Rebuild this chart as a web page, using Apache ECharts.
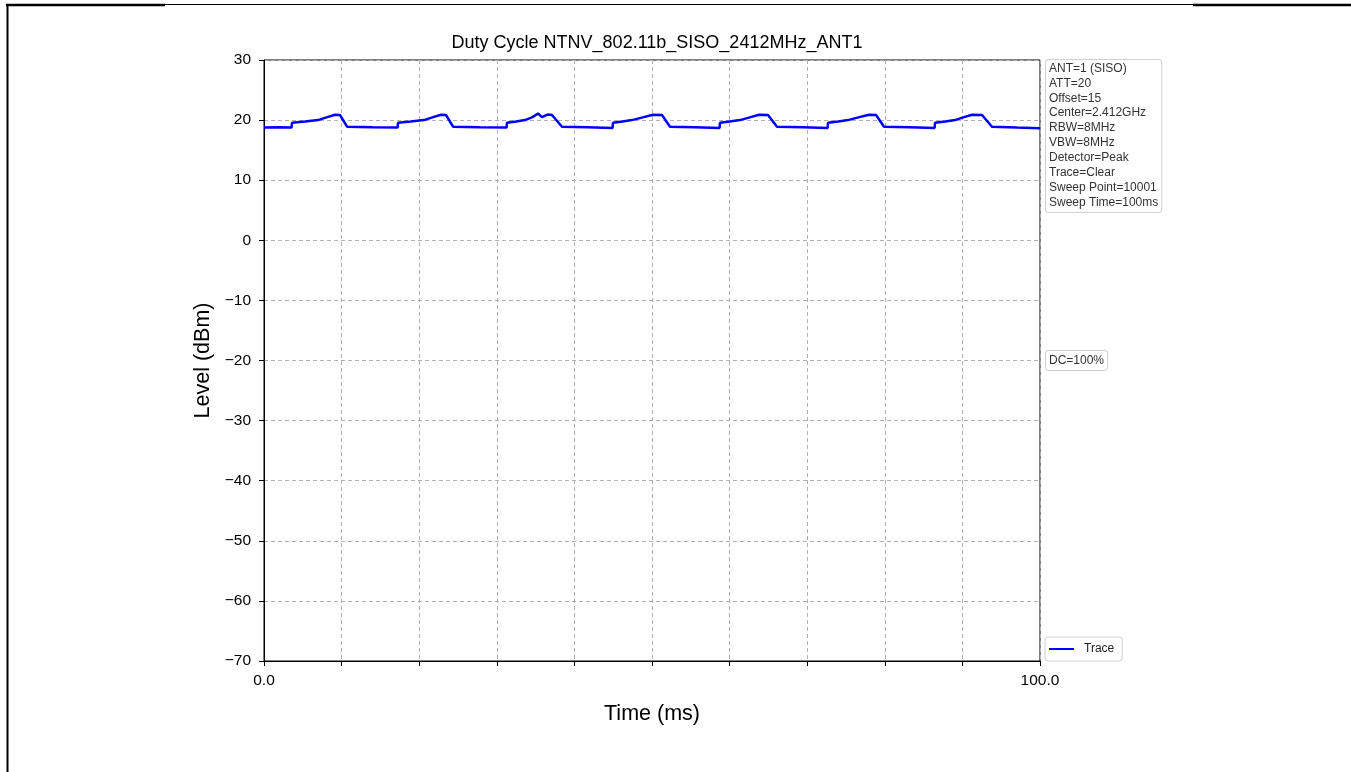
<!DOCTYPE html>
<html>
<head>
<meta charset="utf-8">
<script src="https://cdn.jsdelivr.net/npm/echarts@6/dist/echarts.min.js"></script>
<style>
html,body{margin:0;padding:0;background:#fff;}
#c{width:1351px;height:772px;}
</style>
</head>
<body>
<div id="c"></div>
<script>
const chartTitle = 'Duty Cycle NTNV_802.11b_SISO_2412MHz_ANT1';
const xName = 'Time (ms)';
const yName = 'Level (dBm)';
const xTickLabels = {0: '0.0', 100: '100.0'};
const infoLines = ['ANT=1 (SISO)', 'ATT=20', 'Offset=15', 'Center=2.412GHz', 'RBW=8MHz', 'VBW=8MHz', 'Detector=Peak', 'Trace=Clear', 'Sweep Point=10001', 'Sweep Time=100ms'];
const dcLabel = 'DC=100%';
const seriesName = 'Trace';

const traceTime = [
  0, 1.8, 3.55, 3.61, 5.3, 6.96, 8.05, 9.15, 9.79, 10.70, 14.0,
  17.22, 17.27, 18.9, 20.62, 21.7, 22.81, 23.45, 24.36, 27.8,
  31.26, 31.31, 32.5, 33.63, 34.6, 35.31, 35.82, 36.6, 37.11, 38.40, 41.7,
  44.92, 44.97, 46.2, 47.42, 48.8, 50.13, 51.29, 52.32, 55.5,
  58.71, 58.76, 60.0, 61.34, 62.6, 63.79, 64.95, 66.11, 69.4,
  72.63, 72.68, 74.0, 75.26, 76.6, 77.96, 78.87, 79.90, 83.2,
  86.42, 86.47, 87.8, 89.05, 90.1, 91.24, 92.53, 93.81, 97.0, 100
];
const traceLevel = [
  18.75, 18.8, 18.75, 19.55, 19.75, 20.0, 20.45, 20.9, 20.85, 18.9, 18.8,
  18.75, 19.55, 19.75, 20.0, 20.45, 20.9, 20.85, 18.9, 18.8,
  18.75, 19.55, 19.75, 20.0, 20.5, 21.1, 20.5, 20.95, 20.85, 18.9, 18.8,
  18.7, 19.55, 19.75, 20.0, 20.45, 20.9, 20.85, 18.9, 18.8,
  18.7, 19.55, 19.75, 20.0, 20.45, 20.9, 20.85, 18.9, 18.8,
  18.7, 19.55, 19.75, 20.0, 20.45, 20.9, 20.85, 18.9, 18.8,
  18.7, 19.55, 19.75, 20.0, 20.45, 20.9, 20.85, 18.9, 18.75, 18.65
];

const FONT = '"Liberation Sans", Arial, sans-serif';
const chart = echarts.init(document.getElementById('c'), null, {renderer: 'canvas'});
const data = traceTime.map((t, i) => [t, traceLevel[i]]);

chart.setOption({
  backgroundColor: '#fff',
  animation: false,
  title: {
    text: chartTitle, left: 652, top: 29, textAlign: 'center',
    textStyle: {fontFamily: FONT, fontSize: 18, fontWeight: 'normal', color: '#000'}
  },
  legend: {
    data: [seriesName], left: 1045, top: 637, orient: 'vertical',
    icon: 'path://M0,0 L1,0 L1,0.08 L0,0.08 Z',
    itemWidth: 27, itemHeight: 2, itemGap: 4,
    padding: [6, 8, 6, 4],
    borderColor: '#d0d0d0', borderWidth: 1, borderRadius: 3,
    textStyle: {fontFamily: FONT, fontSize: 12, color: '#222', padding: [0, 0, 0, 4]}
  },
  grid: {left: 264, top: 60, right: 311, bottom: 111, show: true, borderColor: '#000', borderWidth: 1, backgroundColor: 'transparent'},
  xAxis: {
    type: 'value', min: 0, max: 100, interval: 10,
    name: xName, nameLocation: 'middle', nameGap: 42,
    nameTextStyle: {fontFamily: FONT, fontSize: 21.5, color: '#000'},
    axisLine: {show: true, onZero: false, lineStyle: {color: '#000', width: 1}},
    axisTick: {show: true, inside: false, length: 5, lineStyle: {color: '#000'}},
    axisLabel: {
      fontFamily: FONT, fontSize: 15.5, color: '#000', margin: 12, showMinLabel: true, showMaxLabel: true,
      formatter: v => (xTickLabels[v] !== undefined ? xTickLabels[v] : '')
    },
    splitLine: {show: true, lineStyle: {color: '#b0b0b0', type: [4, 3], width: 1}}
  },
  yAxis: {
    type: 'value', min: -70, max: 30, interval: 10,
    name: yName, nameLocation: 'middle', nameGap: 46, nameRotate: 90,
    nameTextStyle: {fontFamily: FONT, fontSize: 21.5, color: '#000'},
    axisLine: {show: true, onZero: false, lineStyle: {color: '#000', width: 1}},
    axisTick: {show: true, inside: false, length: 5, lineStyle: {color: '#000'}},
    axisLabel: {
      fontFamily: FONT, fontSize: 15.5, color: '#000', margin: 13,
      formatter: v => (v < 0 ? '\u2212' + Math.abs(v) : String(v))
    },
    splitLine: {show: true, lineStyle: {color: '#b0b0b0', type: [4, 3], width: 1}}
  },
  series: [{
    name: seriesName, type: 'line', data: data, showSymbol: false, symbol: 'none',
    lineStyle: {color: '#0000ff', width: 2.5}, itemStyle: {color: '#0000ff'}
  }],
  graphic: [
    {type: 'line', shape: {x1: 7, y1: 4.5, x2: 1351, y2: 4.5}, style: {stroke: '#000', lineWidth: 1}, silent: true},
    {type: 'line', shape: {x1: 6, y1: 5, x2: 165, y2: 5}, style: {stroke: '#000', lineWidth: 2.5}, silent: true},
    {type: 'line', shape: {x1: 1193, y1: 5, x2: 1351, y2: 5}, style: {stroke: '#000', lineWidth: 2.5}, silent: true},
    {type: 'line', shape: {x1: 7.5, y1: 4, x2: 7.5, y2: 772}, style: {stroke: '#000', lineWidth: 2}, silent: true},
    {
      type: 'text', left: 1045, top: 59, silent: true,
      style: {
        text: infoLines.join('\n'), fontFamily: FONT, fontSize: 12, lineHeight: 14.9, fill: '#333',
        backgroundColor: '#fff', borderColor: '#d0d0d0', borderWidth: 1, borderRadius: 3,
        padding: [1, 3, 2, 3]
      }
    },
    {
      type: 'text', left: 1045, top: 350, silent: true,
      style: {
        text: dcLabel, fontFamily: FONT, fontSize: 12, lineHeight: 15, fill: '#333',
        backgroundColor: '#fff', borderColor: '#d0d0d0', borderWidth: 1, borderRadius: 3,
        padding: [2, 3, 2, 3]
      }
    }
  ]
});
</script>
</body>
</html>
